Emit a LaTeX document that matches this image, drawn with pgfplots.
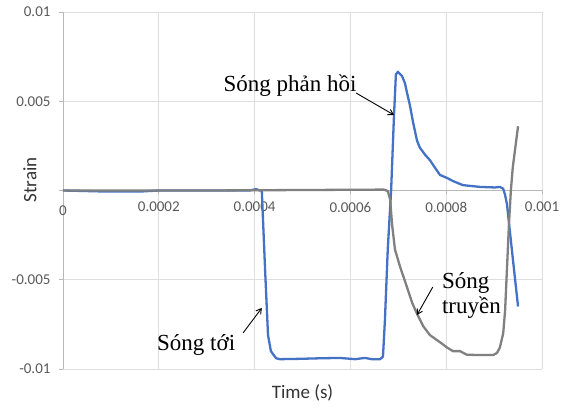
\documentclass[border=0pt]{standalone}
\usepackage{pgfplots}
\pgfplotsset{compat=1.18}
\usepackage{fontspec}
\setmainfont{Liberation Serif}
\newfontfamily\calibri{Carlito}
\usetikzlibrary{arrows.meta}

\definecolor{excelblue}{RGB}{68,114,196}
\definecolor{excelgray}{RGB}{128,128,128}
\definecolor{gridgray}{RGB}{222,222,222}
\definecolor{tickgray}{RGB}{89,89,89}

\begin{document}
\begin{tikzpicture}
\begin{axis}[
    scale only axis,
    width=479bp, height=357bp,
    xmin=0, xmax=0.001,
    ymin=-0.01, ymax=0.01,
    axis x line*=middle,
    axis y line*=left,
    scaled ticks=false,
    axis line style={draw=gray!55, line width=0.8bp},
    grid=major,
    major grid style={draw=gridgray, line width=0.8bp},
    xtick={0,0.0002,0.0004,0.0006,0.0008,0.001},
    xticklabels={0,0.0002,0.0004,0.0006,0.0008,0.001},
    ytick={-0.01,-0.005,0,0.005,0.01},
    yticklabels={-0.01,-0.005,,0.005,0.01},
    tick align=outside,
    major tick length=4bp,
    tick style={draw=gray!55, line width=0.8bp},
    ticklabel style={font=\calibri\fontsize{15bp}{18bp}\selectfont, text=tickgray},
    xticklabel style={yshift=-4bp},
    yticklabel style={xshift=-5bp},
    xlabel={Time (s)},
    ylabel={Strain},
    label style={font=\calibri\fontsize{19bp}{22bp}\selectfont, text=black!80},
    xlabel style={at={(axis description cs:0.5,0)}, anchor=center, yshift=-24bp},
    ylabel style={at={(axis description cs:0,0.53)}, anchor=center, yshift=33bp},
    clip=false,
  ]
% incident + reflected wave
\addplot[excelblue, line width=2.3bp, line join=round] coordinates {
  (0,0) (0.000077,-0.00005) (0.000167,-0.00005) (0.0002,0) (0.00039,0)
  (0.000403,0.00008) (0.000411,0) (0.000415,0) (0.000422,-0.0045)
  (0.000428,-0.0081) (0.000434,-0.0090) (0.000445,-0.0094) (0.000453,-0.00945)
  (0.000495,-0.00943) (0.000536,-0.0094) (0.000578,-0.00938) (0.000610,-0.00945)
  (0.000630,-0.00938) (0.000645,-0.00945) (0.000662,-0.00945) (0.000668,-0.0093)
  (0.000672,-0.0073) (0.000678,-0.0033) (0.000685,0) (0.000691,0.0042)
  (0.000695,0.0065) (0.000699,0.00665) (0.000708,0.0064) (0.000714,0.0060)
  (0.000718,0.0055) (0.000724,0.0048) (0.000731,0.0038) (0.000739,0.0028)
  (0.000745,0.0024) (0.000756,0.0020) (0.000766,0.0017) (0.000777,0.00126)
  (0.000787,0.00087) (0.000802,0.0007) (0.000814,0.00053) (0.000835,0.0003)
  (0.000871,0.0002) (0.000902,0.00017) (0.000912,0.0002) (0.000919,0.0001)
  (0.000923,-0.00025) (0.000927,-0.0008) (0.000937,-0.0033) (0.00095,-0.0065)
};
% transmitted wave
\addplot[excelgray, line width=2.3bp, line join=round] coordinates {
  (0,0) (0.0003,0) (0.00067,0.00005) (0.000678,-0.00003) (0.000683,-0.0005)
  (0.000687,-0.0019) (0.000693,-0.0033) (0.000704,-0.0043) (0.000718,-0.0054)
  (0.000729,-0.0063) (0.000739,-0.0069) (0.000752,-0.0076) (0.000766,-0.0081)
  (0.000787,-0.0085) (0.000802,-0.0088) (0.000814,-0.0090) (0.000829,-0.0090)
  (0.000843,-0.0092) (0.000871,-0.00922) (0.000898,-0.00922) (0.000906,-0.0091)
  (0.000912,-0.0088) (0.000919,-0.0080) (0.000923,-0.0067) (0.000927,-0.0043)
  (0.000931,-0.0019) (0.000935,0) (0.000939,0.0013) (0.00095,0.0036)
};
% x tick label at the origin (dropped by the middle axis line)
\node[font=\calibri\fontsize{15bp}{18bp}\selectfont, text=tickgray, anchor=north,
      yshift=-4bp-4bp-3.33bp] at (axis cs:0,0) {0};
% annotations
\begin{scope}[every node/.style={font=\fontsize{23bp}{26bp}\selectfont, inner sep=0pt}]
\node at (axis cs:0.000474,0.00585) {Sóng phản hồi};
\node at (axis cs:0.000278,-0.00866) {Sóng tới};
\node[anchor=west] at (axis cs:0.000791,-0.00518) {Sóng};
\node[anchor=west] at (axis cs:0.000791,-0.00658) {truyền};
\end{scope}
\begin{scope}[line width=0.9bp, -{Straight Barb[length=5bp,width=6bp]}]
\draw (axis cs:0.000612,0.00546) -- (axis cs:0.000691,0.00423);
\draw (axis cs:0.000376,-0.00798) -- (axis cs:0.000415,-0.00658);
\draw (axis cs:0.000772,-0.00541) -- (axis cs:0.000739,-0.00697);
\end{scope}
\end{axis}
\pgfresetboundingbox
\path[use as bounding box] (-63bp,-40bp) rectangle (507bp,369bp);
\end{tikzpicture}
\end{document}
